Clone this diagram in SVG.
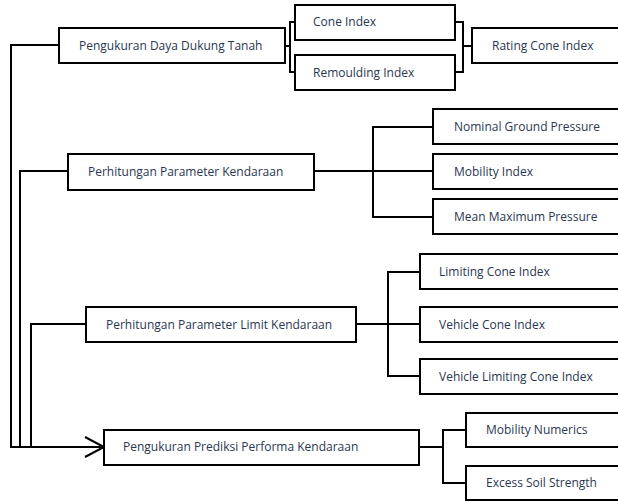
<svg xmlns="http://www.w3.org/2000/svg" width="618" height="502" viewBox="0 0 618 502">
<style>
.box{fill:#fff;stroke:#000;stroke-width:2}
.t{font-family:"Open Sans",sans-serif;font-size:12px;fill:#2a3650}
.c{fill:none;stroke:#000;stroke-width:2}
</style>
<rect width="618" height="502" fill="#fff"/>
<g id="connectors">
<path class="c" d="M59,45 H11 V447 H104"/>
<path class="c" d="M68,171 H20 V447"/>
<path class="c" d="M86,324 H31 V447"/>
<path class="c" d="M85,437 L104,447 L85,457" stroke-width="2.5"/>
<path class="c" d="M285,46 H290 M295,22 H290 V72 H295" stroke-width="1.6"/>
<path class="c" d="M455,22 H463 V72 H455 M463,46 H472" stroke-width="1.6"/>
<path class="c" d="M314,171 H373 M433,127 H373 V217 H433 M373,171 H433"/>
<path class="c" d="M356,324 H388 M420,272 H388 V376 H420 M388,324 H420"/>
<path class="c" d="M419,447 H443 M466,430 H443 V483 H466"/>
</g>
<g id="n1"><rect class="box" x="59" y="28" width="226" height="35"/><text class="t" x="79" y="50">Pengukuran Daya Dukung Tanah</text></g>
<g id="n2"><rect class="box" x="295" y="5" width="160" height="35"/><text class="t" x="313" y="26">Cone Index</text></g>
<g id="n3"><rect class="box" x="295" y="55" width="160" height="35"/><text class="t" x="313" y="77">Remoulding Index</text></g>
<g id="n4"><rect class="box" x="472" y="28" width="160" height="35"/><text class="t" x="492" y="50">Rating Cone Index</text></g>
<g id="n5"><rect class="box" x="68" y="154" width="246" height="36"/><text class="t" x="88" y="176">Perhitungan Parameter Kendaraan</text></g>
<g id="n6"><rect class="box" x="433" y="109" width="200" height="35"/><text class="t" x="454" y="131">Nominal Ground Pressure</text></g>
<g id="n7"><rect class="box" x="433" y="154" width="200" height="35"/><text class="t" x="454" y="176">Mobility Index</text></g>
<g id="n8"><rect class="box" x="433" y="199" width="200" height="35"/><text class="t" x="454" y="221">Mean Maximum Pressure</text></g>
<g id="n9"><rect class="box" x="86" y="307" width="270" height="35"/><text class="t" x="106" y="329">Perhitungan Parameter Limit Kendaraan</text></g>
<g id="n10"><rect class="box" x="420" y="254" width="210" height="35"/><text class="t" x="439" y="276">Limiting Cone Index</text></g>
<g id="n11"><rect class="box" x="420" y="307" width="210" height="35"/><text class="t" x="439" y="329">Vehicle Cone Index</text></g>
<g id="n12"><rect class="box" x="420" y="359" width="210" height="35"/><text class="t" x="439" y="381">Vehicle Limiting Cone Index</text></g>
<g id="n13"><rect class="box" x="104" y="430" width="315" height="35"/><text class="t" x="123" y="451">Pengukuran Prediksi Performa Kendaraan</text></g>
<g id="n14"><rect class="box" x="466" y="413" width="170" height="34"/><text class="t" x="486" y="434">Mobility Numerics</text></g>
<g id="n15"><rect class="box" x="466" y="466" width="170" height="34"/><text class="t" x="486" y="487">Excess Soil Strength</text></g>
</svg>
